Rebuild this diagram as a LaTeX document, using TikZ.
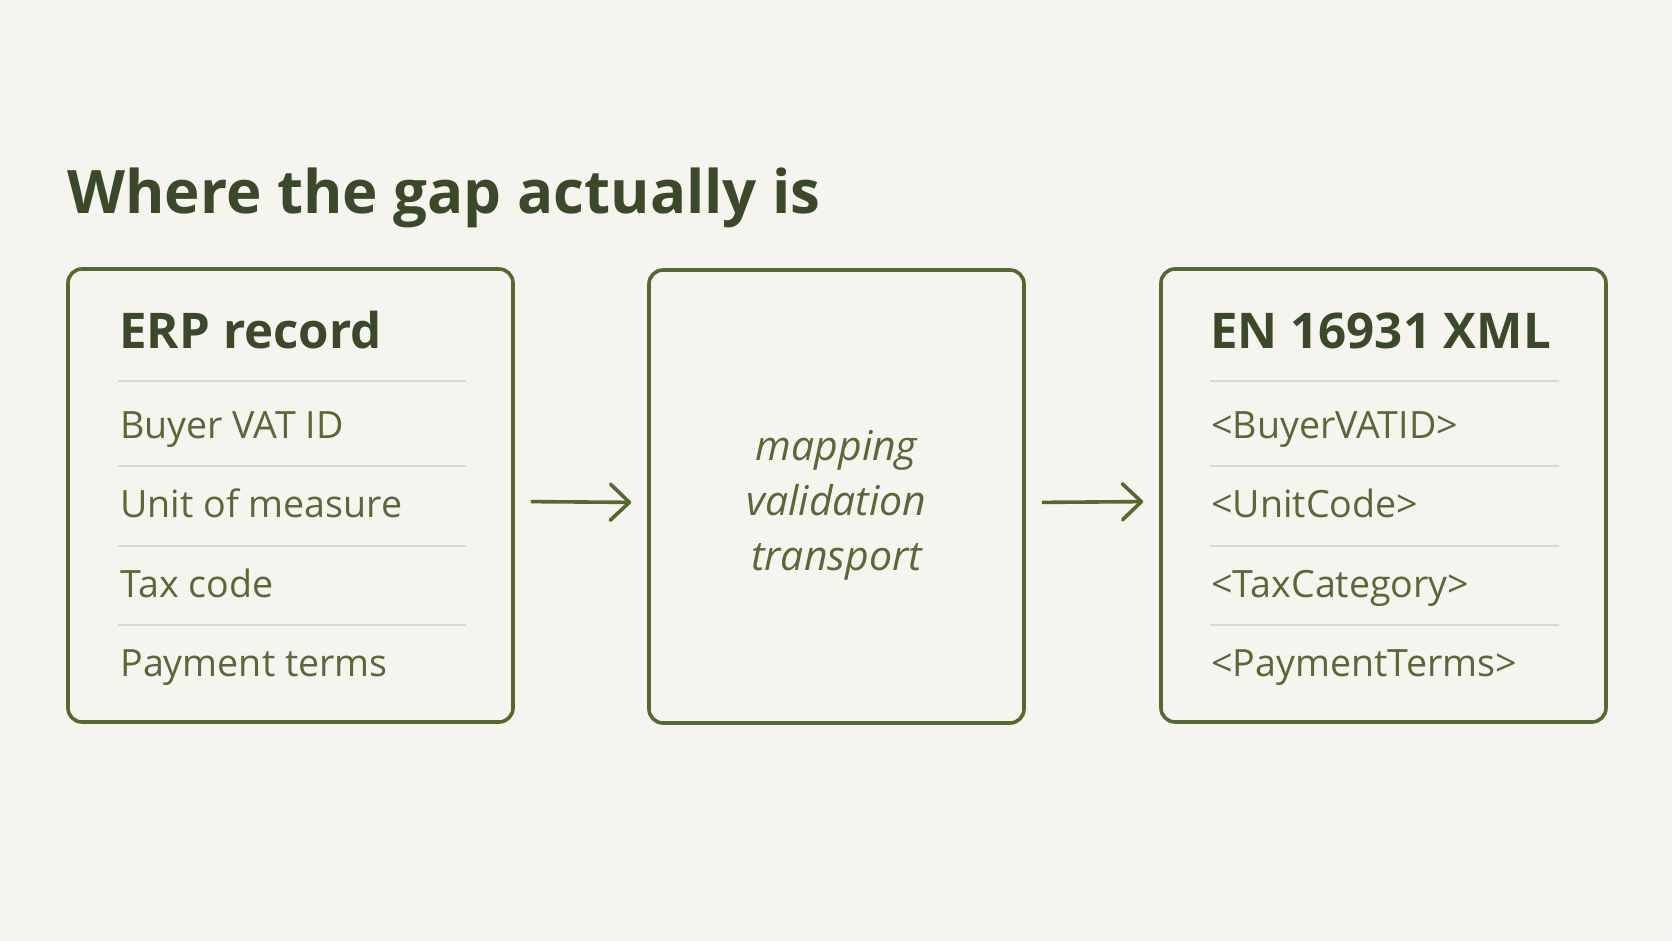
\documentclass[tikz,border=0pt]{standalone}
\usepackage{fontspec}
\setmainfont{Open Sans}
\usetikzlibrary{positioning,arrows.meta}
\definecolor{paper}{HTML}{F5F4EF}
\definecolor{olive}{HTML}{56682F}
\definecolor{darkolive}{HTML}{3B4829}
\definecolor{itemtext}{HTML}{5A6838}
\definecolor{rulegray}{HTML}{D9D8D0}
\begin{document}
\begin{tikzpicture}[x=0.5pt,y=-0.5pt,
	box/.style={draw=olive,line width=1.8pt,rounded corners=7pt,minimum height=226.5pt},
	head/.style={anchor=base west,inner sep=0pt,text=darkolive,font=\bfseries\fontsize{24.6}{29}\selectfont},
	item/.style={anchor=base west,inner sep=0pt,text=itemtext,font=\fontsize{18.8}{22}\selectfont},
	sep/.style={draw=rulegray,line width=1.2pt},
	flow/.style={draw=olive,line width=1.8pt,shorten <=8pt,shorten >=8pt,
		-{Straight Barb[length=9.5pt,width=18pt,line width=1.8pt,round]}}]
	\fill[paper] (0,0) rectangle (1672,941);
	\node[anchor=base west,inner sep=0pt,text=darkolive,font=\bfseries\fontsize{30}{35}\selectfont] (title) at (67,214) {Where the gap actually is};
	\node[box,minimum width=222.5pt] (erp) at (290.5,495.5) {};
	\node[box,minimum width=187.5pt] (mid) at (836.5,496.5) {};
	\node[box,minimum width=222.5pt] (xml) at (1383.5,495.5) {};
	\node[align=center,text=itemtext,font=\itshape\fontsize{20.5}{27.5}\selectfont] (midText) at (836.5,505) {mapping\\validation\\transport};
	\node[head] (erpHead) at (119,349) {ERP record};
	\node[head] (xmlHead) at (1210,349) {EN 16931 XML};
	\foreach \s in {381,466,546,625}{
		\draw[sep] (118,\s) -- (466,\s);
		\draw[sep] (1210,\s) -- (1559,\s);
	}
	\foreach \y/\a/\b [count=\i] in {438/Buyer VAT ID/<BuyerVATID>,517/Unit of measure/<UnitCode>,597/Tax code/<TaxCategory>,676/Payment terms/<PaymentTerms>}{
		\node[item] (erp\i) at (120,\y) {\a};
		\node[item] (xml\i) at (1211,\y) {\b};
	}
	\draw[flow] ([yshift=-3pt]erp.east) -- ([yshift=-3pt]mid.west);
	\draw[flow] ([yshift=-3pt]mid.east) -- ([yshift=-3pt]xml.west);
\end{tikzpicture}
\end{document}
